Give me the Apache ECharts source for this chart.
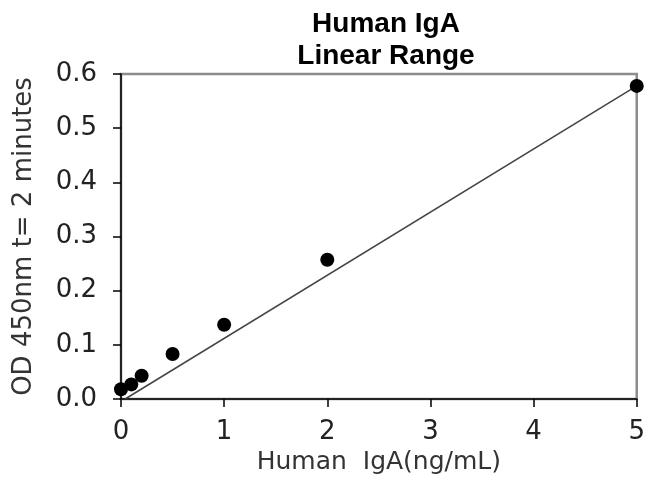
<!DOCTYPE html>
<html><head><meta charset="utf-8">
<script src="https://cdn.jsdelivr.net/npm/echarts@6/dist/echarts.min.js"></script>
<style>html,body{margin:0;padding:0;background:#fff}#c{width:648px;height:480px}</style>
</head><body><div id="c"></div>
<script>
const concentrations = [0, 0.1, 0.2, 0.5, 1, 2, 5];
const odValues = [0.018, 0.027, 0.043, 0.083, 0.137, 0.257, 0.578];
const fitX = [0.04, 5];
const fitY = [0, 0.578];
const xTicks = [0, 1, 2, 3, 4, 5];
const yTicks = [0.0, 0.1, 0.2, 0.3, 0.4, 0.5, 0.6];

const axisFont = 'DejaVu Sans, sans-serif';
const titleFont = 'Liberation Sans, Arial, sans-serif';
const chart = echarts.init(document.getElementById('c'));
chart.setOption({
  animation: false,
  title: {
    text: 'Human IgA\nLinear Range',
    left: 381, top: 3, textAlign: 'center',
    textStyle: {fontFamily: titleFont, fontWeight: 'bold', fontSize: 28, color: '#000', lineHeight: 32}
  },
  grid: {left: 121, right: 10, top: 74, bottom: 79, show: true, borderColor: '#8c8c8c', borderWidth: 2.5, backgroundColor: 'transparent'},
  xAxis: {
    type: 'value', min: xTicks[0], max: xTicks[xTicks.length-1], interval: 1,
    name: 'Human  IgA(ng/mL)', nameLocation: 'middle', nameGap: 51,
    nameTextStyle: {fontFamily: axisFont, fontSize: 25, color: '#333'},
    axisLine: {show: true, lineStyle: {color: '#000', width: 1.5}},
    axisTick: {show: true, length: 8, lineStyle: {color: '#000', width: 1.5}},
    axisLabel: {fontFamily: axisFont, fontSize: 26, color: '#222', margin: 20},
    splitLine: {show: false}
  },
  yAxis: {
    type: 'value', min: yTicks[0], max: yTicks[yTicks.length-1], interval: 0.1,
    name: 'OD 450nm t= 2 minutes', nameLocation: 'middle', nameGap: 84,
    nameTextStyle: {fontFamily: axisFont, fontSize: 26, color: '#333'},
    axisLine: {show: true, lineStyle: {color: '#000', width: 1.5}},
    axisTick: {show: true, length: 8, lineStyle: {color: '#000', width: 1.5}},
    axisLabel: {fontFamily: axisFont, fontSize: 26, color: '#222', margin: 24, formatter: v => v.toFixed(1)},
    splitLine: {show: false}
  },
  series: [
    {
      type: 'line', data: fitX.map((x, i) => [x, fitY[i]]), symbol: 'none',
      lineStyle: {color: '#444', width: 1.5}, z: 2
    },
    {
      type: 'scatter', data: concentrations.map((x, i) => [x, odValues[i]]),
      symbol: 'circle', symbolSize: 14, itemStyle: {color: '#000', opacity: 1}, z: 3, clip: false
    }
  ]
});
</script></body></html>
